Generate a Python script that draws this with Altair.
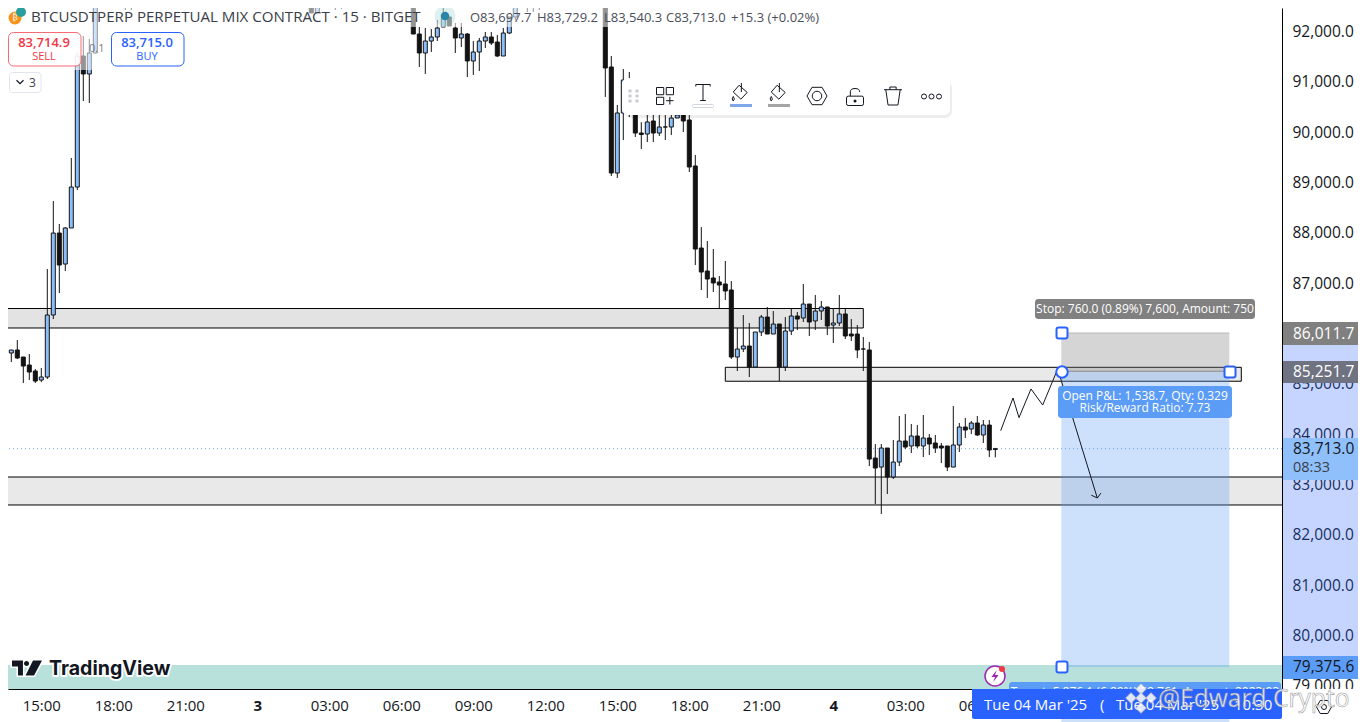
import altair as alt
import pandas as pd

# ---------- candles (bar index counted in 15-minute steps, prices) ----------
bar_index = [-6,-5,-4,-3,-2,-1,0,1,2,3,4,5,6,7,8,9,10,14,15,16,41,45,46,49,50,51,52,53,54,
             62,63,64,65,66,67,68,69,70,71,72,73,74,75,76,77,78,79,80,81,82,83,84,
             94,95,96,97,98,99,100,101,102,103,104,105,106,107,108,109,110,111,112,113,114,
             115,116,117,118,119,120,121,122,123,124,125,126,127,128,129,130,131,132,133,134,135,136,137,
             138,139,140,141,142,143,144,145,146,147,148,149,150,151,152,153,154,155,156,157,158,159]
opens = [85644,85614,85674,85534,85375,85256,85077,85137,86369,87998,87382,88098,88912,91515,91158,91575,92760,92760,92568,92700,92700,92760,92370,92680,92760,92489,92680,92680,92680,
         92760,91952,91575,91813,91893,92091,92290,92072,91873,91952,91416,91595,91813,91893,91793,91515,91972,92290,92489,92628,92760,92529,92620,
         92760,91297,89190,90383,90999,90403,89985,89965,90224,89985,90105,90105,90283,90403,90244,89330,87700,87243,87104,87025,86985,
         86866,85534,85693,85753,85336,86031,86329,85991,86190,85336,86051,86349,86309,86587,86250,86448,86528,86170,86210,86389,85991,85991,85693,
         85674,83527,83348,83726,83150,83448,83865,83766,83965,83766,83925,83826,83766,83766,83348,83786,84143,84104,84223,83985,84183,83697.7]
highs = [85713,85674,85872,85534,85594,85296,85316,87283,88634,88177,88117,89488,91595,91913,91853,93000,92800,92800,92800,92850,92850,92800,92800,92800,92800,92800,92800,92800,92800,
         92800,92091,92072,92052,92231,92489,92290,92171,92171,91972,91813,91873,91992,91992,91933,92072,92290,92489,92700,92800,92800,92800,92800,
         92800,91515,90542,91257,91197,90500,90200,90343,90343,90343,90343,90343,90500,90500,90400,89548,88117,87839,87680,87144,87442,
         87044,86111,86369,86210,86031,86369,86528,86448,86190,86329,86508,86428,86985,86587,86766,86647,86528,86508,86766,86508,86289,86170,85932,
         85832,83806,83806,83726,83885,84362,84402,84203,84183,84382,84004,83985,83826,83766,84561,84223,84322,84263,84362,84283,84283,83729.2]
lows = [85495,85435,85495,85018,85077,85018,85037,85097,86289,86806,87243,88098,88853,90621,90581,91575,92608,92429,92429,92568,92608,92370,92370,92429,92450,92489,92549,92549,92549,
        91952,91297,91158,91595,91813,92091,92111,91575,91694,91098,91138,91217,91674,91734,91495,91515,91952,92231,92489,92390,92390,92429,92608,
        90701,89131,89091,89846,90303,89906,89667,89806,89806,89926,89846,89945,90283,90005,89210,87362,86866,86707,86826,86508,86667,
        85495,85256,85634,85137,85336,85952,85991,85991,85057,85256,85971,86071,86230,85952,86071,86270,85971,85813,86150,85892,85852,85515,85256,
        83368,82613,82415,82812,83110,83368,83706,83627,83726,83547,83587,83627,83428,83269,83348,83647,83925,84004,83965,83826,83547,83540.3]
closes = [85644,85674,85515,85355,85236,85057,85137,86369,87998,87362,88098,88912,91515,91158,91575,92900,92608,92549,92760,92800,92800,92370,92760,92760,92489,92760,92760,92760,92760,
          91952,91575,91813,91893,92072,92270,92111,91873,91952,91416,91595,91813,91893,91774,91515,91972,92290,92489,92628,92760,92529,92760,92760,
          91277,89190,90383,91038,90403,89985,89955,90204,89985,90105,90105,90283,90343,90224,89310,87680,87223,87084,87005,86965,86846,
          85534,85693,85753,85336,86031,86329,85991,86190,85336,86051,86349,86289,86587,86230,86448,86528,86150,86210,86389,85952,85952,85674,85693,
          83507,83329,83726,83150,83448,83865,83746,83965,83766,83925,83806,83726,83726,83348,83786,84143,84084,84223,83985,84183,83687,83713.0]

# ---------- axes ----------
price_ticks = [79000,80000,81000,82000,83000,84000,85000,86000,87000,88000,89000,90000,91000,92000]
time_ticks = [0,12,24,36,48,60,72,84,96,108,120,132,144,156]
time_labels = ["15:00","18:00","21:00","3","03:00","06:00","09:00","12:00","15:00","18:00","21:00","4","03:00","06:00"]
X_DOMAIN = [-5.55, 206.783]
Y_DOMAIN = [78938, 92469]

# ---------- drawings ----------
zone_start = [-10, 114, -10]
zone_end = [137, 200, 210]
zone_top = [86498, 85330, 83150]
zone_bottom = [86111, 85053, 82594]
zone_fill = ["#e3e3e3", "#e9e9e9", "#e9e9e9"]
entry, stop, target = 85251.7, 86011.7, 79375.6
last_price = 83713.0
sketch_i = [159.9, 161.95, 162.95, 164.95, 166.9, 169.4, 176.0]
sketch_p = [84070, 84720, 84330, 84900, 84580, 85296, 82733]
head_i = [175.0, 176.0, 176.6]
head_p = [82790, 82733, 82830]

UI = "Open Sans"
INK = "#131722"
df = pd.DataFrame(dict(i=bar_index, o=opens, h=highs, l=lows, c=closes))
df["dir"] = ["up" if c > o else "down" for o, c in zip(opens, closes)]

xs = alt.Scale(domain=X_DOMAIN, nice=False, zero=False, padding=0)
ys = alt.Scale(domain=Y_DOMAIN, nice=False, zero=False)
xa = alt.Axis(values=time_ticks, title=None, grid=False, ticks=False, domainColor="#000000", domainWidth=1,
              labelExpr="%s[indexof(%s, datum.value)]" % (time_labels, time_ticks),
              labelFont=UI, labelFontSize=15, labelColor=INK, labelPadding=9, labelOverlap=False, labelFlush=False,
              labelFontWeight=alt.expr("datum.value == 36 || datum.value == 132 ? 'bold' : 'normal'"))
ya = alt.Axis(orient="right", values=price_ticks, title=None, grid=False, ticks=False, format=",.1f", domainColor="#000000",
              domainWidth=1, labelFont=UI, labelFontSize=15.5, labelColor=INK, labelPadding=10, labelOverlap=False, labelFlush=False)
X = lambda f: alt.X(f, type="quantitative", scale=xs, axis=xa)
Y = lambda f: alt.Y(f, type="quantitative", scale=ys, axis=ya)

one = pd.DataFrame({"a": [0]})


def box(x1, y1, x2, y2, fill, **kw):
    return alt.Chart(one).mark_rect(fill=fill, **kw).encode(
        x=alt.value(x1 - 8), x2=alt.value(x2 - 8), y=alt.value(y1 - 8), y2=alt.value(y2 - 8))


def label(x, y, s, size=13, color=INK, align="left", font=UI, **kw):
    return alt.Chart(one).mark_text(text=s, fontSize=size, color=color, align=align, baseline="middle", font=font, **kw).encode(
        x=alt.value(x - 8), y=alt.value(y - 8))


def sym(x, y, shape, px, fill=None, stroke=None, sw=1, **kw):
    o = dict(shape=shape, size=px * px, opacity=1, strokeWidth=sw)
    if fill:
        o.update(filled=True, fill=fill)
    else:
        o.update(filled=False, fillOpacity=0)
    if stroke:
        o.update(stroke=stroke)
    else:
        o.update(strokeWidth=0)
    o.update(kw)
    return alt.Chart(one).mark_point(**o).encode(x=alt.value(x - 8), y=alt.value(y - 8))


def hband(i1, i2, p1, p2, **kw):
    d = pd.DataFrame(dict(i=[i1], i2=[i2], p=[p1], p2=[p2]))
    return alt.Chart(d).mark_rect(**kw).encode(x=X("i"), x2="i2", y=Y("p"), y2="p2")


layers = []
# supply / demand zones
zones = pd.DataFrame(dict(i=zone_start, i2=zone_end, p=zone_top, p2=zone_bottom, f=zone_fill))
layers.append(alt.Chart(zones).mark_rect(stroke="#000000", strokeWidth=1, clip=True).encode(
    x=X("i"), x2="i2", y=Y("p"), y2="p2", fill=alt.Fill("f:N", scale=None)))
# teal band at the bottom
layers.append(hband(-10, 210, 79414, 78938, fill="#b9e1db", clip=True))
# position tool
layers.append(hband(170, 198, stop, entry, fill="#808080", opacity=0.33))
layers.append(hband(170, 198, entry, target, fill="#5b9cf6", opacity=0.3))
layers.append(alt.Chart(pd.DataFrame(dict(i=[170], i2=[198], p=[stop]))).mark_rule(color="#bbbbbb").encode(x=X("i"), x2="i2", y=Y("p")))
layers.append(alt.Chart(pd.DataFrame(dict(i=[170], i2=[198], p=[entry]))).mark_rule(color="#8a8a8a").encode(x=X("i"), x2="i2", y=Y("p")))
layers.append(box(1061.3, 689, 1229.3, 722, "#cce0fa"))
# last price line
layers.append(alt.Chart(pd.DataFrame(dict(p=[last_price]))).mark_rule(color="#6d9fe8", strokeDash=[1, 3], strokeWidth=1).encode(y=Y("p")))
# candles
layers.append(alt.Chart(df).mark_rule(color="#131313", strokeWidth=1, clip=True).encode(x=X("i"), y=Y("h"), y2="l"))
layers.append(alt.Chart(df).mark_bar(size=4, stroke="#131313", strokeWidth=1, clip=True, orient="vertical").encode(
    x=X("i"), y=Y("o"), y2="c",
    fill=alt.Fill("dir:N", scale=alt.Scale(domain=["up", "down"], range=["#8cbffa", "#131313"]), legend=None)))
# hand-drawn path and arrow
sk = pd.DataFrame(dict(i=sketch_i, p=sketch_p, n=range(len(sketch_i))))
layers.append(alt.Chart(sk).mark_line(color="#131722", strokeWidth=1).encode(x=X("i"), y=Y("p"), order="n"))
hd = pd.DataFrame(dict(i=head_i, p=head_p, n=range(3)))
layers.append(alt.Chart(hd).mark_line(color="#131722", strokeWidth=1).encode(x=X("i"), y=Y("p"), order="n"))

# veil under the top-left legend
layers.append(box(26, 4, 820, 27, "#ffffff", opacity=0.55))
layers.append(box(8, 27, 104, 70, "#ffffff", opacity=0.55))

# price axis overlays
layers.append(box(1283, 333, 1366, 667, "#2962ff", opacity=0.27))
layers.append(box(1283, 322, 1362, 345, "#808080", cornerRadiusTopRight=2, cornerRadiusBottomRight=2))
layers.append(label(1293, 333.5, "86,011.7", 15.5, "#ffffff"))
layers.append(box(1283, 361, 1362, 383, "#6f7280", cornerRadiusTopRight=2, cornerRadiusBottomRight=2))
layers.append(label(1293, 372, "85,251.7", 15.5, "#ffffff"))
layers.append(box(1283, 438, 1362, 480, "#8fc0fb", cornerRadiusTopRight=2, cornerRadiusBottomRight=2))
layers.append(label(1293, 449, "83,713.0", 15.5))
layers.append(label(1293, 468, "08:33", 14.5, "#3a3d48"))
layers.append(box(1283, 656, 1362, 679, "#5b9cf6", cornerRadiusTopRight=2, cornerRadiusBottomRight=2))
layers.append(label(1293, 667, "79,375.6", 15.5))
layers.append(box(1283, 689, 1366, 722, "#ffffff"))

# position labels
layers.append(box(1035, 299, 1255, 319, "#808080", cornerRadius=3))
layers.append(label(1145, 309, "Stop: 760.0 (0.89%) 7,600, Amount: 750", 12, "#ffffff", "center"))
layers.append(box(1058, 386, 1232, 418, "#5b9cf6", cornerRadius=3))
layers.append(label(1145, 396, "Open P&L: 1,538.7, Qty: 0.329", 12, "#ffffff", "center"))
layers.append(label(1145, 408, "Risk/Reward Ratio: 7.73", 12, "#ffffff", "center"))
layers.append(box(1009, 682, 1281, 700, "#5b9cf6", cornerRadius=3))
layers.append(label(1145, 692, "Target: 5,876.1 (6.89%) 58,761, Amount: 2023.93", 12, "#ffffff", "center"))

# handles
RSQ = "M-.6 -1H.6Q1 -1 1 -.6V.6Q1 1 .6 1H-.6Q-1 1 -1 .6V-.6Q-1 -1 -.6 -1Z"
for hx, hy in [(1062, 333), (1062, 667), (1230, 372)]:
    layers.append(sym(hx, hy, RSQ, 11, "#ffffff", "#2962ff", 2))
layers.append(sym(1062, 372, "circle", 11.5, "#ffffff", "#2962ff", 2))

# time axis highlight
layers.append(box(972, 689, 1282, 719, "#2962ff", cornerRadiusBottomLeft=2, cornerRadiusBottomRight=2))
layers.append(label(984, 705, "Tue 04 Mar '25", 15, "#ffffff"))
layers.append(label(1100, 705, "(", 15, "#ffffff"))
layers.append(label(1116, 705, "Tue 04 Mar '25", 15, "#ffffff"))
layers.append(label(1234, 705, "10:30", 15, "#ffffff"))

# legend block
layers.append(sym(15, 18, "circle", 13, "#f7931a"))
layers.append(label(15, 18, "₿", 8, "#ffffff", "center"))
layers.append(sym(21, 12, "circle", 10, "#2a9d9d"))
layers.append(label(31, 17, "BTCUSDTPERP PERPETUAL MIX CONTRACT · 15 · BITGET", 15.1, "#3a3d48"))
layers.append(sym(445, 16, "circle", 21, "#2a9d9d", opacity=0.15))
layers.append(sym(445, 16, "circle", 8.5, "#2a86a8"))
layers.append(label(470, 18, "O83,697.7", 13, "#4a4e5a"))
layers.append(label(537, 18, "H83,729.2", 13, "#4a4e5a"))
layers.append(label(604, 18, "L83,540.3", 13, "#4a4e5a"))
layers.append(label(666, 18, "C83,713.0", 13, "#4a4e5a"))
layers.append(label(731, 18, "+15.3 (+0.02%)", 13, "#4a4e5a"))
layers.append(label(89, 49, "0.1", 11, "#787b86"))

# buy / sell
layers.append(box(8.5, 32.5, 81, 66, "#ffffff", opacity=0.85, stroke="#f7525f", strokeWidth=1, strokeOpacity=1, cornerRadius=5))
layers.append(label(44, 43, "83,714.9", 13, "#f23645", "center", fontWeight=600))
layers.append(label(44, 57, "SELL", 11, "#f23645", "center"))
layers.append(box(111.5, 32.5, 184, 66, "#ffffff", stroke="#2962ff", strokeWidth=1, cornerRadius=5))
layers.append(label(147, 43, "83,715.0", 13, "#2962ff", "center", fontWeight=600))
layers.append(label(147, 57, "BUY", 11, "#2962ff", "center"))
layers.append(box(9.5, 72.5, 41, 92.5, "#ffffff", stroke="#e0e3eb", strokeWidth=1, cornerRadius=3))
layers.append(sym(20, 82, "M-1 -.5L0 .5L1 -.5", 7, None, "#131722", 1.2))
layers.append(label(29, 83, "3", 12, "#3a3d48"))

# floating toolbar
layers.append(box(624, 81, 952, 118, "#000000", opacity=0.07, cornerRadius=7))
layers.append(box(622, 78, 950, 115, "#ffffff", cornerRadius=6))
for dx in (630, 637):
    for dy in (91, 96, 101):
        layers.append(sym(dx, dy, "square", 3, "#c8cad0"))
layers.append(sym(665, 96, "M-1 -1H-.15V-.15H-1Z M.15 -1H1V-.15H.15Z M-1 .15H-.15V1H-1Z M.57 .1V1 M.12 .55H1", 17, None, "#131722", 1))
layers.append(sym(703, 92.5, "M-.9 -.75V-1H.9V-.75 M0 -1V1 M-.35 1H.35", 16, None, "#131722", 1))
layers.append(box(692.5, 104.5, 713.5, 107.5, "#ffffff", stroke="#d1d4dc", strokeWidth=1, cornerRadius=1))
BUCKET = "M-.1 -.75L.8 .05L.1 .8L-.75 0Z M.15 -1V.0 M-.75 .5Q-1 .8 -.75 1Q-.5 .8 -.75 .5Z"
layers.append(sym(740, 92, BUCKET, 18, None, "#131722", 1))
layers.append(box(730, 104, 752, 107, "#7ea6e8"))
layers.append(sym(778, 92, BUCKET, 18, None, "#131722", 1))
layers.append(box(768, 104, 790, 107, "#a5a5a5"))
HEX = "M-1 0L-.5 -.87H.5L1 0L.5 .87H-.5Z"
layers.append(sym(817, 96, HEX, 20, None, "#131722", 1))
layers.append(sym(817, 96, "circle", 9.5, None, "#131722", 1))
LOCK = "M-.8 -.1H.8Q1 -.1 1 .1V.8Q1 1 .8 1H-.8Q-1 1 -1 .8V.1Q-1 -.1 -.8 -.1Z M-.55 -.1V-.6Q-.55 -1 0 -1Q.55 -1 .55 -.6"
layers.append(sym(855, 97, LOCK, 17, None, "#131722", 1))
layers.append(sym(855, 101, "circle", 3, "#131722"))
TRASH = "M-1 -.7H1 M-.35 -.7V-1H.35V-.7 M-.8 -.7L-.55 1H.55L.8 -.7"
layers.append(sym(893, 96, TRASH, 18, None, "#131722", 1))
for dx in (924, 931.5, 939):
    layers.append(sym(dx, 96.5, "circle", 5, None, "#131722", 1))

# TradingView mark
TVLOGO = ("M-1 -.5H-.27V.5H-.6V-.1H-1Z M-.2 -.3A.17 .17 0 1 1 .14 -.3A.17 .17 0 1 1 -.2 -.3Z M.4 -.5H1L.47 .5H-.1Z")
layers.append(sym(27, 668, TVLOGO, 30, "#ffffff", "#ffffff", 3))
layers.append(sym(27, 668, TVLOGO, 30, "#131722"))
layers.append(label(49, 669, "TradingView", 19.6, "#ffffff", font="Inter", fontWeight=700, stroke="#ffffff", strokeWidth=3.5))
layers.append(label(49, 669, "TradingView", 19.6, "#131722", font="Inter", fontWeight=700))

# replay / bolt badge
layers.append(sym(995, 676, "circle", 20, "#ffffff", "#9c27b0", 1.5))
layers.append(sym(995, 676, "M.3 -1L-.6 .15H0L-.3 1L.6 -.15H0Z", 12, "#9c27b0"))
layers.append(sym(1002, 669, "circle", 6, "#f23645"))

# settings icon
layers.append(sym(1324, 707, HEX, 15, None, "#131722", 1))
layers.append(sym(1324, 707, "circle", 5, None, "#131722", 1))

# watermark
for wx, wy in [(1141, 689), (1131, 698), (1151, 698), (1141, 698), (1141, 708)]:
    layers.append(sym(wx, wy, "diamond", 11, "#ffffff", "#9a9a9a", 0.7, opacity=0.85))
layers.append(label(1158, 700, "@Edward Crypto", 24.6, "#ffffff", font="Open Sans", stroke="#8f8f8f", strokeWidth=0.6, opacity=0.85))

chart = alt.layer(*layers).properties(
    width=1274, height=681,
    padding={"left": 0, "top": 0, "right": 76, "bottom": 33},
    autosize=alt.AutoSizeParams(type="none"),
    background="#ffffff",
).configure_view(strokeWidth=0)

chart.save("out.html", embed_options={"renderer": "svg", "actions": False})
